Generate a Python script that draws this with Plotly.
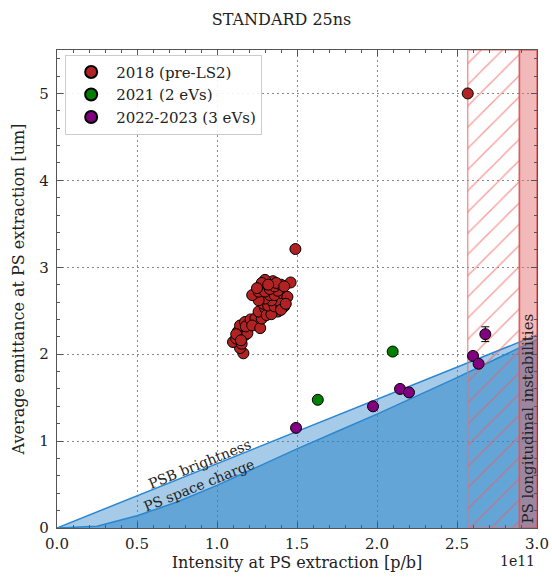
import plotly.graph_objects as go

# ---------------- data (intensity in units of 1e11 p/b) ----------------
curve_x = [0.0, 0.25, 0.5, 0.75, 1.0, 1.25, 1.5, 1.75, 2.0, 2.25, 2.5, 2.75, 3.0]
psb_brightness = [0.0, 0.185, 0.37, 0.555, 0.74, 0.925, 1.11, 1.295, 1.48, 1.665, 1.85, 2.035, 2.22]
ps_space_charge = [0.0, 0.02, 0.14, 0.30, 0.49, 0.70, 0.91, 1.11, 1.31, 1.52, 1.73, 1.95, 2.17]

x_2018 = [1.165, 1.144, 1.10, 1.154, 1.12, 1.14, 1.175, 1.13, 1.16, 1.175, 1.144, 1.175, 1.206, 1.19,
          1.12, 1.15, 1.18, 1.21, 1.24, 1.22,
          1.27, 1.28, 1.26, 1.30, 1.31, 1.35, 1.38, 1.34, 1.29, 1.32, 1.36, 1.40, 1.42, 1.39, 1.34,
          1.30, 1.26, 1.33, 1.36, 1.22, 1.41, 1.44, 1.38, 1.26, 1.30, 1.33, 1.40, 1.43,
          1.36, 1.40, 1.35, 1.30, 1.28, 1.46, 1.37, 1.42, 1.32, 1.25,
          1.49, 2.567]
y_2018 = [2.01, 2.07, 2.14, 2.12, 2.18, 2.20, 2.22, 2.26, 2.27, 2.30, 2.33, 2.37, 2.35, 2.24,
          2.23, 2.16, 2.32, 2.40, 2.41, 2.33,
          2.30, 2.41, 2.49, 2.53, 2.45, 2.51, 2.49, 2.46, 2.58, 2.56, 2.55, 2.53, 2.55, 2.61, 2.62,
          2.64, 2.62, 2.68, 2.68, 2.68, 2.70, 2.66, 2.73, 2.72, 2.72, 2.75, 2.51, 2.58,
          2.78, 2.80, 2.84, 2.855, 2.82, 2.825, 2.82, 2.78, 2.80, 2.76,
          3.21, 5.00]

x_2021 = [1.63, 2.098]
y_2021 = [1.475, 2.03]
err_2021 = [0.03, 0.04]

x_2022 = [1.494, 1.975, 2.144, 2.20, 2.60, 2.635, 2.677]
y_2022 = [1.152, 1.40, 1.60, 1.56, 1.98, 1.89, 2.23]
err_2022 = [0.01, 0.01, 0.01, 0.01, 0.01, 0.01, 0.085]

hatch_x = [2.567, 2.89]       # PS-limited region (hatched)
instab_x = [2.89, 3.0]        # PS longitudinal instabilities
x_ticks = [0.0, 0.5, 1.0, 1.5, 2.0, 2.5, 3.0]
y_ticks = [0, 1, 2, 3, 4, 5]

FONT = "DejaVu Serif"
line_blue = "#2a87cf"

fig = go.Figure()

# space-charge fill (darker)
fig.add_trace(go.Scatter(x=curve_x, y=ps_space_charge, mode="lines",
                         line=dict(color=line_blue, width=1.5),
                         fill="tozeroy", fillcolor="rgba(40,130,200,0.72)",
                         showlegend=False, hoverinfo="skip"))
# brightness band (lighter)
fig.add_trace(go.Scatter(x=curve_x, y=psb_brightness, mode="lines",
                         line=dict(color=line_blue, width=1.5),
                         fill="tonexty", fillcolor="rgba(40,130,200,0.42)",
                         showlegend=False, hoverinfo="skip"))

# hatched region
fig.add_trace(go.Scatter(x=[hatch_x[0], hatch_x[1], hatch_x[1], hatch_x[0], hatch_x[0]],
                         y=[0, 0, 5.5, 5.5, 0], mode="lines",
                         line=dict(color="rgba(240,110,110,0.7)", width=1.5),
                         fill="toself", fillcolor="rgba(0,0,0,0)",
                         fillpattern=dict(shape="/", fgcolor="rgba(240,90,90,0.6)",
                                          bgcolor="rgba(0,0,0,0)", size=15, solidity=0.09,
                                          fillmode="replace"),
                         showlegend=False, hoverinfo="skip"))
# instability band
fig.add_trace(go.Scatter(x=[instab_x[0], instab_x[1], instab_x[1], instab_x[0], instab_x[0]],
                         y=[0, 0, 5.5, 5.5, 0], mode="lines",
                         line=dict(color="rgba(220,80,80,0.8)", width=1.5),
                         fill="toself", fillcolor="rgba(225,100,100,0.45)",
                         showlegend=False, hoverinfo="skip"))

mk_line = dict(color="black", width=1)
fig.add_trace(go.Scatter(x=x_2018, y=y_2018, mode="markers", name="2018 (pre-LS2)",
                         marker=dict(color="#b22222", size=11, line=mk_line)))
fig.add_trace(go.Scatter(x=x_2021, y=y_2021, mode="markers", name="2021 (2 eVs)",
                         error_y=dict(type="data", array=err_2021, color="black", thickness=1, width=4),
                         marker=dict(color="#008000", size=11, line=mk_line)))
fig.add_trace(go.Scatter(x=x_2022, y=y_2022, mode="markers", name="2022-2023 (3 eVs)",
                         error_y=dict(type="data", array=err_2022, color="black", thickness=1, width=4),
                         marker=dict(color="#800080", size=11, line=mk_line)))

ann_font = dict(family=FONT, size=14, color="#222")
fig.add_annotation(x=0.89, y=0.74, text="PSB brightness", showarrow=False,
                   textangle=-22, font=ann_font)
fig.add_annotation(x=0.89, y=0.50, text="PS space charge", showarrow=False,
                   textangle=-22, font=ann_font)
fig.add_annotation(x=2.945, y=0.03, text="PS longitudinal instabilities", showarrow=False,
                   textangle=-90, yanchor="bottom", font=dict(family=FONT, size=15, color="#222"))
fig.add_annotation(xref="paper", yref="paper", x=1.0, y=-0.068, text="1e11", showarrow=False,
                   xanchor="right", yanchor="middle", font=dict(family=FONT, size=14, color="#222"))

axis_common = dict(showline=True, linecolor="#555", linewidth=1.3, mirror="allticks",
                   ticks="inside", ticklen=6, tickcolor="#555", automargin=False,
                   showgrid=True, gridcolor="#8a8a8a", griddash="1.5px,3.5px", gridwidth=1,
                   zeroline=False, tickfont=dict(family=FONT, size=15, color="#222"))

fig.update_xaxes(range=[0, 3.0], tickvals=x_ticks, ticktext=[f"{v:.1f}" for v in x_ticks],
                 minor=dict(dtick=0.1, ticks="inside", ticklen=3, tickcolor="#555", showgrid=False),
                 title=dict(text="Intensity at PS extraction [p/b]", standoff=4,
                            font=dict(family=FONT, size=16, color="#222")),
                 ticklabelstandoff=2,
                 **axis_common)
fig.update_yaxes(range=[0, 5.5], tickvals=y_ticks, ticktext=[str(v) for v in y_ticks],
                 minor=dict(dtick=0.2, ticks="inside", ticklen=3, tickcolor="#555", showgrid=False),
                 title=dict(text="Average emittance at PS extraction [um]", standoff=10,
                            font=dict(family=FONT, size=16, color="#222")),
                 ticklabelstandoff=4,
                 **axis_common)

fig.update_layout(
    width=552, height=578,
    margin=dict(l=57, r=15, t=50, b=50),
    paper_bgcolor="white", plot_bgcolor="white",
    title=dict(text="STANDARD 25ns", x=0.51, xanchor="center", y=0.967, yanchor="middle",
               font=dict(family=FONT, size=16, color="#222")),
    legend=dict(x=0.017, y=0.99, xanchor="left", yanchor="top", traceorder="normal",
                bgcolor="rgba(255,255,255,0.9)", bordercolor="#ccc", borderwidth=1,
                font=dict(family=FONT, size=15, color="#222"), itemsizing="constant",
                itemwidth=40, tracegroupgap=0),
    showlegend=True,
)

fig.write_html("out.html", config={"displayModeBar": False},
               post_script="document.body.style.margin='0px';document.body.style.overflow='hidden';")
